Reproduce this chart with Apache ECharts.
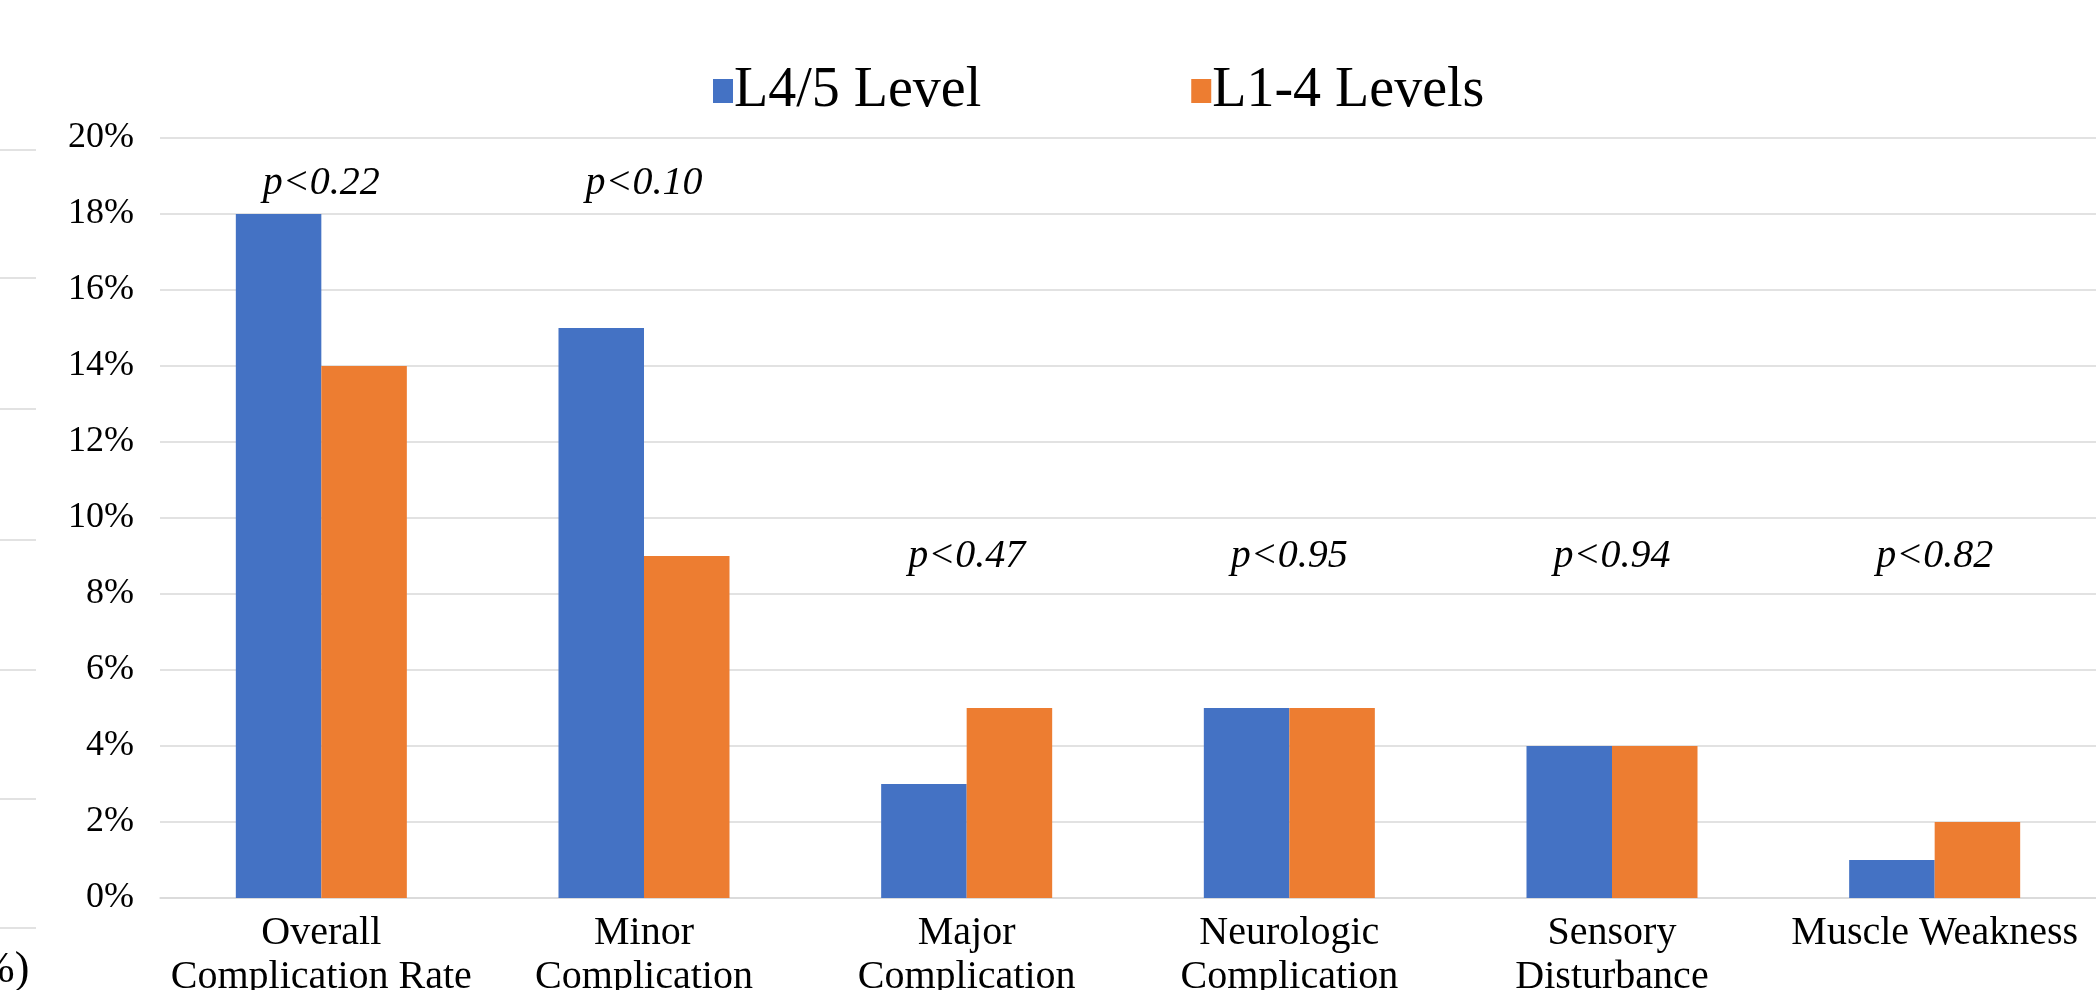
<!DOCTYPE html>
<html>
<head>
<meta charset="utf-8">
<script src="https://cdn.jsdelivr.net/npm/echarts@6/dist/echarts.min.js"></script>
<style>
html,body{margin:0;padding:0;background:#fff;overflow:hidden;}
#chart{width:2096px;height:990px;}
</style>
</head>
<body>
<div id="chart"></div>
<script>
const categories = ["Overall\nComplication Rate", "Minor\nComplication", "Major\nComplication", "Neurologic\nComplication", "Sensory\nDisturbance", "Muscle Weakness"];
const seriesNames = ["L4/5 Level", "L1-4 Levels"];
const l45Values = [18, 15, 3, 5, 4, 1];
const l14Values = [14, 9, 5, 5, 4, 2];
const pLabels = ["p<0.22", "p<0.10", "p<0.47", "p<0.95", "p<0.94", "p<0.82"];
const pLabelHeights = [18.8, 18.8, 9.0, 9.0, 9.0, 9.0];
const yTicks = [0, 2, 4, 6, 8, 10, 12, 14, 16, 18, 20];

const FONT = "'Liberation Serif', 'Times New Roman', serif";
const GRID = '#d9d9d9';

const chart = echarts.init(document.getElementById('chart'), null, {renderer: 'canvas'});

// faint remnant gridlines at the far left edge of the reference crop
const remnantY = [150, 278, 409, 540, 670, 799, 928];
const graphics = remnantY.map(y => ({
  type: 'line', shape: {x1: 0, y1: y, x2: 36, y2: y},
  style: {stroke: GRID, lineWidth: 1.5}, silent: true
}));
graphics.push({
  type: 'text', left: -22, top: 948,
  style: {text: '%)', font: '44px ' + FONT, fill: '#000'}, silent: true
});

chart.setOption({
  backgroundColor: '#fff',
  animation: false,
  textStyle: {fontFamily: FONT},
  graphic: graphics,
  legend: {
    data: seriesNames,
    left: 708,
    top: 58,
    itemWidth: 20,
    itemHeight: 24,
    itemGap: 210,
    icon: 'rect',
    textStyle: {fontFamily: FONT, fontSize: 56, color: '#000', padding: [0, 0, 0, -4]}
  },
  grid: {left: 160, right: 0, top: 138, bottom: 92, containLabel: false, outerBoundsMode: 'none'},
  xAxis: {
    type: 'category',
    data: categories,
    axisLine: {show: true, lineStyle: {color: GRID, width: 1.5}},
    axisTick: {show: false},
    axisLabel: {
      interval: 0,
      fontFamily: FONT, fontSize: 40, lineHeight: 44, color: '#000',
      margin: 13, verticalAlign: 'top'
    }
  },
  yAxis: {
    type: 'value',
    min: yTicks[0],
    max: yTicks[yTicks.length - 1],
    interval: 2,
    axisLine: {show: false},
    axisTick: {show: false},
    splitLine: {lineStyle: {color: GRID, width: 1.5}},
    axisLabel: {
      fontFamily: FONT, fontSize: 36, color: '#000', margin: 26,
      padding: [0, 0, 5, 0],
      formatter: v => v + '%'
    }
  },
  series: [
    {
      name: seriesNames[0], type: 'bar', data: l45Values,
      itemStyle: {color: '#4472C4'},
      barGap: '0%', barCategoryGap: '47%'
    },
    {
      name: seriesNames[1], type: 'bar', data: l14Values,
      itemStyle: {color: '#ED7D31'},
      barGap: '0%', barCategoryGap: '47%'
    },
    {
      name: 'p', type: 'scatter',
      data: pLabelHeights.map((h, i) => ({value: h, label: {formatter: pLabels[i]}})),
      symbolSize: 1,
      itemStyle: {color: 'rgba(0,0,0,0)', opacity: 1},
      label: {
        show: true, position: 'inside',
        fontFamily: FONT, fontStyle: 'italic', fontSize: 40, color: '#000', opacity: 1
      },
      silent: true, z: 10
    }
  ]
});
</script>
</body>
</html>
